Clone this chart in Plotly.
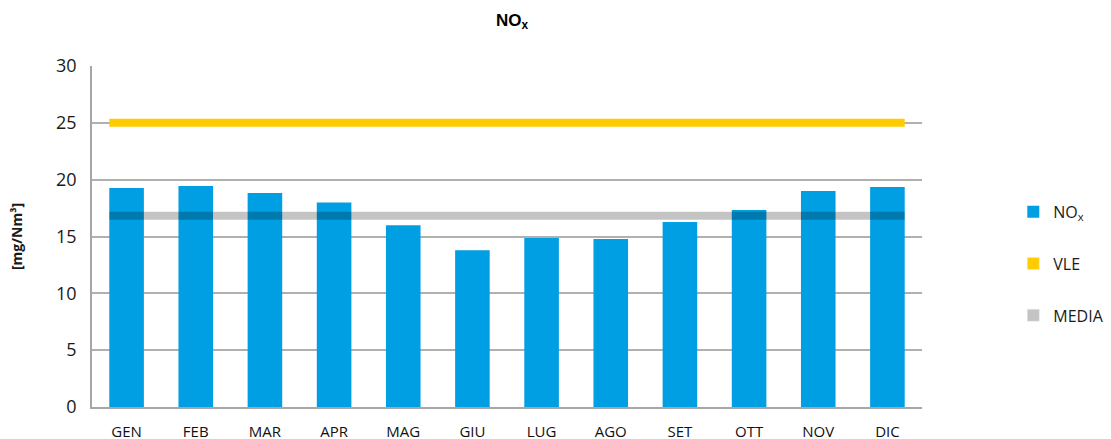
import plotly.graph_objects as go

months = ["GEN", "FEB", "MAR", "APR", "MAG", "GIU", "LUG", "AGO", "SET", "OTT", "NOV", "DIC"]
nox = [19.26, 19.44, 18.82, 18.0, 16.0, 13.8, 14.86, 14.78, 16.27, 17.33, 19.0, 19.35]
vle = 25
media = 16.83
y_ticks = [0, 5, 10, 15, 20, 25, 30]

BAR_W = 0.5
idx = list(range(len(months)))
x_line = [-BAR_W / 2, len(months) - 1 + BAR_W / 2]

fig = go.Figure()
fig.add_trace(go.Bar(x=idx, y=nox, width=BAR_W, marker=dict(color="#009FE3", line=dict(width=0)),
                     name="NO<sub>x</sub>", legendgroup="a", showlegend=True))
fig.add_trace(go.Scatter(x=x_line, y=[vle, vle], mode="lines", line=dict(color="#FFCC00", width=8),
                         showlegend=False, hoverinfo="skip"))
fig.add_trace(go.Scatter(x=x_line, y=[media, media], mode="lines", line=dict(color="rgba(0,0,0,0.23)", width=8),
                         showlegend=False, hoverinfo="skip"))
# legend entries (square swatches)
fig.add_trace(go.Bar(x=[None], y=[None], marker=dict(color="#FFCC00"), name="VLE", legendgroup="b"))
fig.add_trace(go.Bar(x=[None], y=[None], marker=dict(color="#C4C4C4"), name="MEDIA", legendgroup="c"))

fig.update_layout(
    width=1111, height=439,
    margin=dict(l=92, r=189, t=66, b=32, autoexpand=False),
    plot_bgcolor="white", paper_bgcolor="white",
    title=dict(text="<b>NO<sub>x</sub></b>", x=512 / 1111, xanchor="center", y=0.955, yanchor="middle",
               font=dict(family="Liberation Sans, Arial", size=17, color="#000")),
    font=dict(family="Open Sans", color="#1a1a1a"),
    barmode="overlay",
    legend=dict(x=1.11, y=0.42, xanchor="left", yanchor="middle", tracegroupgap=28,
                font=dict(family="Open Sans", size=16, color="#1a1a1a"), itemwidth=30),
    xaxis=dict(range=[-0.5, len(months) - 0.5], tickvals=idx, ticktext=months, automargin=False,
               tickfont=dict(family="Open Sans", size=15, color="#111111", weight=500), ticklabelstandoff=10,
               showline=True, linecolor="#a6a6a6", linewidth=1.5, showgrid=False, ticks="",
               zeroline=False, fixedrange=True),
    yaxis=dict(range=[0, 30], tickvals=y_ticks, tickfont=dict(family="Open Sans", size=18, color="#1a1a1a"),
               showline=True, linecolor="#a6a6a6", linewidth=1.5, showgrid=True, gridcolor="#b0b0b0",
               gridwidth=1.5, zeroline=False, ticks="", ticklabelstandoff=10, automargin=False,
               title=dict(text="<b>[mg/Nm³]</b>", font=dict(family="Open Sans", size=14, color="#1a1a1a"), standoff=30)),
)

fig.write_html("out.html", config={"displayModeBar": False},
               post_script="document.body.style.margin='0';")
